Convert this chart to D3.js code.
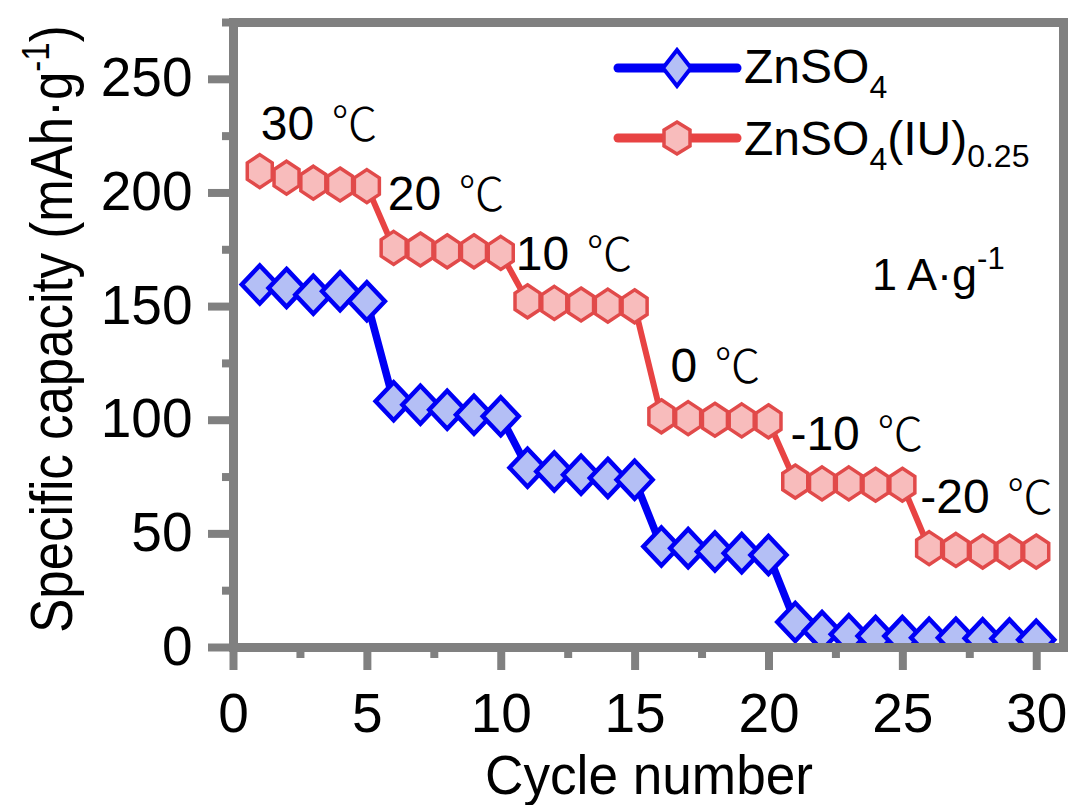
<!DOCTYPE html>
<html>
<head>
<meta charset="utf-8">
<script src="https://cdn.jsdelivr.net/npm/d3@7"></script>
<style>
  html, body { margin: 0; padding: 0; background: #ffffff; }
  svg { display: block; }
  text { font-family: "Liberation Sans", Arial, sans-serif; fill: #000; }
</style>
</head>
<body>
<svg id="chart" width="1072" height="805"></svg>
<script>
// ---------------- data ----------------
const cycles = [1,2,3,4,5,6,7,8,9,10,11,12,13,14,15,16,17,18,19,20,21,22,23,24,25,26,27,28,29,30];
const znso4 = [159.5,158,155,156.5,152.1,108.1,106.6,104.4,102.2,101.5,78.9,77.2,75.8,74.4,73.6,44.2,43.5,42,41.3,40.5,11,7,5.6,4.8,4.8,4.1,4.1,3.8,3.7,3.2];
const znso4IU = [209.4,206.5,204.3,203.5,202.8,175.6,174.9,174.1,174.1,173.4,152.1,151.4,150.7,150.2,149.9,101.5,100.7,100,99.7,99.3,72.8,72,72,71.4,71.4,43.5,42.7,42,42,42];
const xMajorTicks = [0,5,10,15,20,25,30];
const xMinorTicks = [2.5,7.5,12.5,17.5,22.5,27.5];
const yMajorTicks = [0,50,100,150,200,250];
const yMinorTicks = [25,75,125,175,225,275];
const tempLabels = ["30", "20", "10", "0", "-10", "-20"];
// annotation anchors (cycle, capacity) for the temperature labels
const tempLabelCycle = [1.04, 5.78, 10.56, 16.34, 20.82, 25.67];
const tempLabelCap = [223.3, 192.5, 166, 116.7, 86.8, 59];

// ---------------- layout ----------------
const svg = d3.select("#chart");
const gray = "#808080";
const x = d3.scaleLinear().domain([0, 31]).range([233, 1063]);
const y = d3.scaleLinear().domain([0, 275]).range([647, 22]);

const blue = "#0000f5", blueFill = "#b4bff5";
const red = "#e84343", redStroke = "#e14a4a", redFill = "#f8bcbc";

svg.append("defs").append("clipPath").attr("id", "plotclip")
  .append("rect").attr("x", x(0)).attr("y", y(275)).attr("width", x(31) - x(0)).attr("height", y(0) - y(275));

const diamondPath = (hw, hh) => `M0,${-hh}L${hw},0L0,${hh}L${-hw},0Z`;
const hexPath = (hw, hh) => `M0,${-hh}L${hw},${-hh/2}L${hw},${hh/2}L0,${hh}L${-hw},${hh/2}L${-hw},${-hh/2}Z`;

const plot = svg.append("g").attr("clip-path", "url(#plotclip)");

function drawSeries(vals, lineColor, lineW, shape, fill, stroke, sw) {
  const pts = cycles.map((c, i) => [c, vals[i]]);
  plot.append("path")
    .attr("d", d3.line().x(d => x(d[0])).y(d => y(d[1]))(pts))
    .attr("fill", "none").attr("stroke", lineColor).attr("stroke-width", lineW)
    .attr("stroke-linejoin", "round");
  plot.append("g").selectAll("path").data(pts).join("path")
    .attr("transform", d => `translate(${x(d[0])},${y(d[1])})`)
    .attr("d", shape)
    .attr("fill", fill).attr("stroke", stroke).attr("stroke-width", sw)
    .attr("stroke-linejoin", "miter");
}
drawSeries(znso4, blue, 7.5, diamondPath(18, 19), blueFill, blue, 4.5);
drawSeries(znso4IU, red, 6, hexPath(12.5, 16.5), redFill, redStroke, 3.5);

// ---------------- axes ----------------
function styleAxis(g) {
  g.select(".domain").attr("stroke", gray).attr("stroke-width", 9).attr("stroke-linecap", "square");
  g.selectAll(".tick line").attr("stroke", gray).attr("stroke-width", 8);
  g.selectAll(".tick text").style("font-family", "Liberation Sans, Arial, sans-serif").style("font-size", "55px").attr("fill", "#000");
}
svg.append("g").attr("transform", `translate(0,${y(0)})`)
  .call(d3.axisBottom(x).tickValues(xMinorTicks).tickSize(11).tickSizeOuter(0).tickFormat(""))
  .call(styleAxis);
svg.append("g").attr("transform", `translate(0,${y(0)})`)
  .call(d3.axisBottom(x).tickValues(xMajorTicks).tickSize(23).tickSizeOuter(0).tickPadding(23).tickFormat(d3.format("d")))
  .call(styleAxis);
svg.append("g").attr("transform", `translate(${x(0)},0)`)
  .call(d3.axisLeft(y).tickValues(yMinorTicks).tickSize(11).tickSizeOuter(0).tickFormat(""))
  .call(styleAxis);
svg.append("g").attr("transform", `translate(${x(0)},0)`)
  .call(d3.axisLeft(y).tickValues(yMajorTicks).tickSize(25).tickSizeOuter(0).tickPadding(15.5).tickFormat(d3.format("d")))
  .call(styleAxis)
  .selectAll(".tick text").attr("dy", "0.31em");
svg.append("g").attr("transform", `translate(0,${y(275)})`)
  .call(d3.axisTop(x).tickValues([]).tickSizeOuter(0)).call(styleAxis);
svg.append("g").attr("transform", `translate(${x(31)},0)`)
  .call(d3.axisRight(y).tickValues([]).tickSizeOuter(0)).call(styleAxis);

// axis titles
svg.append("text").attr("x", 649).attr("y", 794).attr("text-anchor", "middle")
  .style("font-size", "55px").attr("textLength", 328).attr("lengthAdjust", "spacingAndGlyphs")
  .text("Cycle number");

const yt = svg.append("text").attr("transform", "translate(72,329) rotate(-90) scale(1,1.15)")
  .attr("text-anchor", "middle").style("font-size", "51px");
yt.append("tspan").text("Specific capacity (mAh·g");
yt.append("tspan").attr("dy", -20).style("font-size", "33px").text("-1");
yt.append("tspan").attr("dy", 20).text(")");

// ---------------- temperature labels ----------------
tempLabels.forEach((t, i) => {
  const tx = svg.append("text").attr("x", x(tempLabelCycle[i])).attr("y", y(tempLabelCap[i]))
    .style("font-size", "48px");
  tx.append("tspan").text(t + " ");
  tx.append("tspan").attr("dx", 4).style("font-family", "'Noto Sans CJK SC', sans-serif")
    .style("font-weight", "300").style("font-size", "46px").text("℃");
});

// ---------------- current density ----------------
const cd = svg.append("text").attr("x", 872).attr("y", 290).style("font-size", "45px");
cd.append("tspan").text("1 A·g");
cd.append("tspan").attr("dy", -21).style("font-size", "31px").text("-1");

// ---------------- legend ----------------
const legend = svg.append("g");
const legendItems = [
  {y: 68, color: blue, shape: diamondPath(14, 18), fill: blueFill, stroke: blue, sw: 4},
  {y: 138, color: red, shape: hexPath(13, 16), fill: redFill, stroke: redStroke, sw: 3.5}
];
legendItems.forEach(it => {
  legend.append("line").attr("x1", 618).attr("x2", 737).attr("y1", it.y).attr("y2", it.y)
    .attr("stroke", it.color).attr("stroke-width", 9).attr("stroke-linecap", "round");
  legend.append("path").attr("transform", `translate(677,${it.y})`).attr("d", it.shape)
    .attr("fill", it.fill).attr("stroke", it.stroke).attr("stroke-width", it.sw);
});
const l1 = legend.append("text").attr("x", 744).attr("y", 83).style("font-size", "48px");
l1.append("tspan").text("ZnSO");
l1.append("tspan").attr("dy", 15).style("font-size", "32px").text("4");
const l2 = legend.append("text").attr("x", 744).attr("y", 155).style("font-size", "48px");
l2.append("tspan").text("ZnSO");
l2.append("tspan").attr("dy", 15).style("font-size", "32px").text("4");
l2.append("tspan").attr("dy", -15).text("(IU)");
l2.append("tspan").attr("dy", 12).style("font-size", "32px").text("0.25");
</script>
</body>
</html>
